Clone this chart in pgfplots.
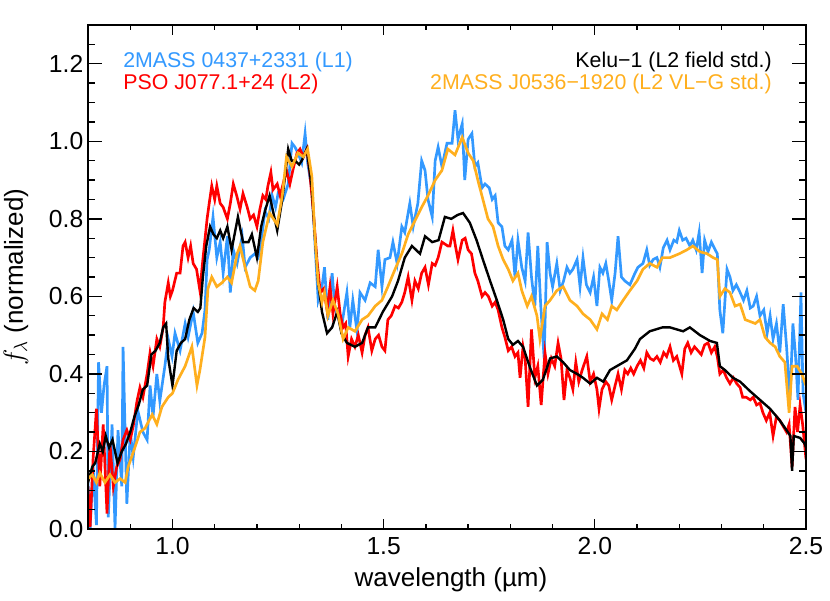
\documentclass[border=0pt]{standalone}
\usepackage{fontspec}
\setmainfont{Liberation Sans}
\usepackage{pgfplots}
\pgfplotsset{compat=1.18}
\definecolor{cblue}{RGB}{51,153,255}
\definecolor{corange}{RGB}{255,175,30}
\definecolor{cred}{RGB}{255,0,0}
\begin{document}
\begin{tikzpicture}
\pgfplotsset{
  base/.style={
    scale only axis, width=538.5pt, height=378pt,
    at={(0pt,0pt)}, anchor=south west,
    xmin=0.8, xmax=2.5, ymin=0, ymax=1.3,
    axis line style={line width=1.2pt},
    every tick/.style={line width=1.0pt, black},
    tick align=inside,
    /pgf/number format/assume math mode=true,
    /pgf/number format/.cd, fixed, fixed zerofill, precision=1,
  }
}
\begin{axis}[base,
  ytick=\empty,
  xtick={1,1.5,2,2.5},
  minor xtick={0.9,1.1,1.2,1.3,1.4,1.6,1.7,1.8,1.9,2.1,2.2,2.3,2.4},
  major tick length=7.5pt, minor tick length=3.75pt,
  xticklabel style={font=\fontsize{18.5}{20}\selectfont, yshift=-3pt},
  xlabel={wavelength (µm)},
  xlabel style={font=\fontsize{19.5}{22}\selectfont, at={(axis description cs:0.5,0)}, anchor=base, yshift=-42.75pt, xshift=3pt},
]
% 2MASS 0437+2331 (blue)
\addplot[color=cblue, line width=2pt] coordinates {
(0.800,0.12)(0.805,0.00)(0.812,0.16)(0.820,0.01)(0.825,0.43)(0.832,0.30)(0.838,0.37)(0.845,0.42)(0.848,0.03)(0.857,0.27)
(0.864,0.00)(0.871,0.255)(0.880,0.11)(0.883,0.47)(0.892,0.065)(0.900,0.25)(0.907,0.185)(0.918,0.305)(0.930,0.25)(0.940,0.23)
(0.947,0.37)(0.954,0.29)(0.963,0.40)(0.970,0.33)(0.982,0.42)(0.990,0.49)(0.999,0.445)(1.006,0.505)(1.018,0.46)(1.030,0.53)
(1.037,0.495)(1.049,0.56)(1.060,0.48)(1.070,0.505)(1.077,0.565)(1.082,0.695)(1.087,0.72)(1.096,0.805)(1.105,0.70)(1.113,0.74)
(1.120,0.66)(1.130,0.755)(1.137,0.61)(1.144,0.72)(1.153,0.685)(1.165,0.755)(1.172,0.675)(1.184,0.70)(1.195,0.71)(1.203,0.70)
(1.212,0.76)(1.219,0.82)(1.228,0.80)(1.236,0.86)(1.244,0.83)(1.250,0.865)(1.262,0.85)(1.274,0.89)(1.283,0.995)(1.290,0.985)
(1.297,0.97)(1.306,0.945)(1.314,1.02)(1.320,0.945)(1.330,0.875)(1.337,0.745)(1.345,0.59)(1.354,0.625)(1.360,0.675)(1.368,0.54)
(1.378,0.66)(1.385,0.565)(1.392,0.555)(1.400,0.52)(1.413,0.61)(1.420,0.52)(1.427,0.59)(1.437,0.51)(1.444,0.61)(1.456,0.59)
(1.468,0.635)(1.480,0.625)(1.487,0.72)(1.496,0.625)(1.503,0.695)(1.515,0.70)(1.522,0.74)(1.532,0.685)(1.543,0.78)(1.550,0.765)
(1.562,0.84)(1.570,0.78)(1.581,0.84)(1.590,0.95)(1.598,0.925)(1.605,0.85)(1.615,0.805)(1.622,0.95)(1.629,0.985)(1.638,0.935)
(1.650,0.995)(1.662,0.995)(1.669,1.08)(1.676,1.005)(1.686,1.045)(1.692,0.90)(1.700,1.005)(1.709,1.02)(1.716,0.935)(1.723,0.945)
(1.733,0.88)(1.740,0.89)(1.750,0.88)(1.757,0.85)(1.764,0.86)(1.771,0.79)(1.780,0.78)(1.787,0.73)(1.795,0.72)(1.804,0.745)
(1.811,0.65)(1.818,0.745)(1.827,0.675)(1.835,0.64)(1.842,0.765)(1.850,0.65)(1.858,0.575)(1.865,0.73)(1.872,0.575)(1.880,0.44)
(1.887,0.74)(1.894,0.66)(1.900,0.625)(1.910,0.685)(1.918,0.615)(1.926,0.64)(1.934,0.675)(1.941,0.66)(1.948,0.67)(1.958,0.695)
(1.965,0.625)(1.972,0.70)(1.980,0.63)(1.989,0.61)(1.997,0.65)(2.005,0.575)(2.012,0.675)(2.019,0.66)(2.026,0.685)(2.033,0.64)
(2.040,0.59)(2.048,0.66)(2.055,0.755)(2.063,0.65)(2.071,0.64)(2.083,0.63)(2.095,0.66)(2.102,0.675)(2.114,0.685)(2.123,0.72)
(2.130,0.68)(2.138,0.695)(2.147,0.70)(2.154,0.675)(2.162,0.725)(2.171,0.745)(2.178,0.72)(2.187,0.745)(2.194,0.74)(2.200,0.77)
(2.208,0.745)(2.216,0.75)(2.225,0.73)(2.232,0.745)(2.240,0.72)(2.247,0.765)(2.254,0.66)(2.260,0.745)(2.268,0.715)(2.276,0.74)
(2.285,0.72)(2.290,0.71)(2.296,0.565)(2.303,0.505)(2.313,0.67)(2.320,0.65)(2.327,0.615)(2.335,0.63)(2.344,0.61)(2.352,0.59)
(2.360,0.615)(2.368,0.57)(2.375,0.575)(2.383,0.60)(2.391,0.55)(2.400,0.565)(2.408,0.505)(2.415,0.55)(2.422,0.49)(2.430,0.53)
(2.438,0.455)(2.446,0.58)(2.454,0.47)(2.462,0.333)(2.469,0.53)(2.475,0.45)(2.481,0.333)(2.488,0.61)(2.493,0.35)(2.500,0.30)
};
% PSO J077.1+24 (red)
\addplot[color=cred, line width=2pt] coordinates {
(0.800,0.11)(0.805,0.005)(0.812,0.18)(0.820,0.31)(0.828,0.11)(0.836,0.27)(0.845,0.04)(0.852,0.22)(0.860,0.11)(0.868,0.16)
(0.876,0.18)(0.883,0.23)(0.892,0.255)(0.900,0.23)(0.907,0.265)(0.916,0.33)(0.923,0.365)(0.930,0.34)(0.940,0.40)(0.947,0.455)
(0.954,0.42)(0.963,0.49)(0.970,0.47)(0.978,0.52)(0.982,0.585)(0.990,0.635)(0.995,0.60)(1.000,0.615)(1.010,0.66)(1.018,0.66)
(1.025,0.73)(1.030,0.74)(1.037,0.70)(1.043,0.73)(1.049,0.685)(1.057,0.67)(1.065,0.615)(1.072,0.695)(1.082,0.80)(1.087,0.84)
(1.093,0.885)(1.100,0.85)(1.105,0.885)(1.113,0.84)(1.120,0.83)(1.130,0.80)(1.137,0.84)(1.144,0.89)(1.152,0.86)(1.160,0.825)
(1.167,0.865)(1.177,0.83)(1.184,0.80)(1.192,0.81)(1.200,0.78)(1.207,0.825)(1.214,0.86)(1.221,0.85)(1.226,0.885)(1.233,0.92)
(1.238,0.875)(1.248,0.89)(1.255,0.86)(1.262,0.89)(1.270,0.925)(1.278,0.89)(1.286,0.93)(1.295,0.97)(1.302,0.98)(1.310,0.96)
(1.318,0.98)(1.325,0.92)(1.333,0.825)(1.342,0.695)(1.350,0.61)(1.358,0.62)(1.366,0.565)(1.373,0.625)(1.380,0.555)(1.390,0.625)
(1.397,0.555)(1.404,0.52)(1.410,0.53)(1.416,0.445)(1.424,0.49)(1.432,0.47)(1.440,0.50)(1.449,0.455)(1.456,0.50)(1.463,0.52)
(1.472,0.46)(1.480,0.49)(1.488,0.50)(1.496,0.47)(1.503,0.46)(1.510,0.54)(1.518,0.55)(1.527,0.575)(1.535,0.57)(1.543,0.585)
(1.550,0.61)(1.558,0.65)(1.567,0.59)(1.574,0.64)(1.582,0.62)(1.590,0.66)(1.598,0.675)(1.606,0.63)(1.615,0.685)(1.622,0.68)
(1.629,0.70)(1.638,0.74)(1.645,0.735)(1.652,0.73)(1.657,0.73)(1.664,0.77)(1.670,0.73)(1.676,0.695)(1.686,0.745)(1.693,0.75)
(1.700,0.72)(1.708,0.71)(1.716,0.66)(1.723,0.64)(1.733,0.60)(1.740,0.61)(1.748,0.60)(1.757,0.575)(1.764,0.585)(1.771,0.565)
(1.780,0.52)(1.787,0.495)(1.795,0.46)(1.803,0.47)(1.811,0.445)(1.818,0.455)(1.823,0.39)(1.830,0.47)(1.835,0.44)(1.842,0.315)
(1.850,0.515)(1.858,0.39)(1.865,0.42)(1.873,0.32)(1.882,0.455)(1.889,0.40)(1.897,0.44)(1.905,0.42)(1.913,0.48)(1.920,0.44)
(1.927,0.333)(1.934,0.41)(1.941,0.39)(1.948,0.36)(1.955,0.43)(1.962,0.38)(1.970,0.41)(1.981,0.445)(1.989,0.38)(1.997,0.40)
(2.005,0.36)(2.010,0.31)(2.017,0.36)(2.026,0.38)(2.033,0.37)(2.040,0.333)(2.048,0.37)(2.055,0.40)(2.063,0.36)(2.071,0.41)
(2.078,0.40)(2.085,0.415)(2.092,0.40)(2.100,0.42)(2.108,0.435)(2.116,0.415)(2.123,0.455)(2.131,0.44)(2.139,0.435)(2.147,0.445)
(2.155,0.43)(2.163,0.455)(2.170,0.445)(2.178,0.47)(2.186,0.435)(2.194,0.445)(2.206,0.40)(2.213,0.465)(2.220,0.48)(2.228,0.455)
(2.236,0.47)(2.244,0.46)(2.252,0.45)(2.260,0.475)(2.268,0.48)(2.276,0.455)(2.284,0.47)(2.290,0.445)(2.296,0.40)(2.304,0.41)
(2.312,0.39)(2.320,0.375)(2.328,0.39)(2.336,0.375)(2.344,0.365)(2.350,0.34)(2.358,0.34)(2.368,0.333)(2.375,0.34)(2.383,0.32)
(2.391,0.325)(2.398,0.30)(2.406,0.28)(2.414,0.30)(2.422,0.24)(2.430,0.29)(2.438,0.28)(2.446,0.265)(2.454,0.25)(2.460,0.27)
(2.467,0.16)(2.474,0.315)(2.480,0.25)(2.486,0.32)(2.492,0.27)(2.500,0.18)
};
% Kelu-1 (black)
\addplot[color=black, line width=1.8pt] coordinates {
(0.800,0.12)(0.810,0.16)(0.817,0.17)(0.828,0.22)(0.835,0.20)(0.842,0.24)(0.850,0.21)(0.858,0.23)(0.864,0.20)(0.870,0.17)
(0.880,0.20)(0.890,0.22)(0.900,0.25)(0.910,0.29)(0.920,0.32)(0.930,0.36)(0.940,0.37)(0.950,0.45)(0.960,0.46)(0.970,0.48)
(0.978,0.52)(0.985,0.53)(0.990,0.44)(1.000,0.37)(1.010,0.46)(1.020,0.48)(1.030,0.49)(1.040,0.54)(1.050,0.57)(1.060,0.56)
(1.066,0.57)(1.072,0.65)(1.080,0.73)(1.089,0.78)(1.097,0.76)(1.105,0.75)(1.113,0.77)(1.120,0.75)(1.130,0.78)(1.140,0.72)
(1.155,0.805)(1.167,0.74)(1.180,0.74)(1.188,0.76)(1.200,0.70)(1.210,0.78)(1.219,0.82)(1.230,0.86)(1.248,0.77)(1.260,0.85)
(1.274,0.98)(1.282,0.95)(1.290,0.95)(1.300,0.94)(1.306,0.95)(1.318,0.98)(1.330,0.88)(1.337,0.76)(1.345,0.635)(1.354,0.56)
(1.366,0.505)(1.378,0.52)(1.390,0.56)(1.400,0.505)(1.413,0.48)(1.432,0.47)(1.449,0.48)(1.463,0.52)(1.480,0.52)(1.498,0.56)
(1.520,0.60)(1.534,0.64)(1.550,0.70)(1.567,0.73)(1.586,0.71)(1.598,0.755)(1.615,0.74)(1.630,0.745)(1.645,0.805)(1.660,0.80)
(1.675,0.81)(1.688,0.815)(1.704,0.79)(1.720,0.745)(1.735,0.695)(1.752,0.64)(1.768,0.59)(1.783,0.54)(1.795,0.49)(1.806,0.475)
(1.818,0.485)(1.830,0.47)(1.847,0.415)(1.863,0.37)(1.877,0.385)(1.894,0.44)(1.910,0.445)(1.925,0.43)(1.941,0.41)(1.958,0.40)
(1.972,0.39)(1.989,0.375)(2.005,0.39)(2.020,0.38)(2.036,0.41)(2.052,0.42)(2.076,0.435)(2.095,0.465)(2.107,0.49)(2.130,0.51)
(2.160,0.52)(2.178,0.52)(2.209,0.51)(2.225,0.52)(2.249,0.50)(2.273,0.485)(2.289,0.48)(2.296,0.42)(2.308,0.41)(2.327,0.39)
(2.344,0.38)(2.368,0.355)(2.391,0.333)(2.415,0.31)(2.438,0.28)(2.457,0.25)(2.463,0.24)(2.467,0.15)(2.471,0.24)(2.486,0.235)
(2.497,0.22)(2.500,0.21)
};
% 2MASS J0536-1920 (orange)
\addplot[color=corange, line width=2pt] coordinates {
(0.800,0.13)(0.810,0.14)(0.820,0.12)(0.828,0.145)(0.840,0.12)(0.852,0.14)(0.864,0.12)(0.876,0.13)(0.888,0.12)(0.895,0.16)
(0.911,0.21)(0.923,0.25)(0.935,0.26)(0.952,0.295)(0.963,0.27)(0.975,0.315)(0.990,0.34)(1.000,0.35)(1.013,0.385)(1.030,0.42)
(1.046,0.47)(1.058,0.37)(1.065,0.41)(1.077,0.495)(1.084,0.62)(1.093,0.65)(1.105,0.625)(1.117,0.635)(1.130,0.65)(1.140,0.635)
(1.153,0.71)(1.160,0.73)(1.172,0.675)(1.184,0.625)(1.195,0.615)(1.203,0.64)(1.214,0.74)(1.230,0.815)(1.248,0.785)(1.260,0.86)
(1.270,0.96)(1.283,0.935)(1.297,0.97)(1.310,0.96)(1.320,0.98)(1.330,0.91)(1.337,0.76)(1.345,0.635)(1.354,0.585)(1.360,0.61)
(1.368,0.55)(1.380,0.59)(1.392,0.555)(1.404,0.49)(1.416,0.52)(1.432,0.51)(1.449,0.54)(1.463,0.55)(1.480,0.575)(1.496,0.59)
(1.510,0.625)(1.527,0.67)(1.543,0.71)(1.558,0.76)(1.574,0.795)(1.590,0.83)(1.605,0.86)(1.622,0.90)(1.638,0.925)(1.652,0.98)
(1.669,0.965)(1.686,1.01)(1.700,0.97)(1.712,0.95)(1.723,0.90)(1.735,0.85)(1.747,0.80)(1.759,0.78)(1.771,0.73)(1.783,0.695)
(1.795,0.67)(1.806,0.64)(1.818,0.66)(1.827,0.615)(1.840,0.575)(1.850,0.60)(1.863,0.55)(1.870,0.49)(1.882,0.575)(1.894,0.59)
(1.910,0.615)(1.925,0.625)(1.941,0.59)(1.958,0.575)(1.972,0.555)(1.989,0.54)(2.005,0.515)(2.017,0.555)(2.030,0.54)(2.040,0.575)
(2.052,0.565)(2.067,0.59)(2.083,0.615)(2.100,0.64)(2.114,0.67)(2.130,0.685)(2.147,0.675)(2.160,0.70)(2.178,0.70)(2.200,0.71)
(2.218,0.72)(2.232,0.73)(2.249,0.715)(2.266,0.71)(2.280,0.70)(2.290,0.695)(2.296,0.60)(2.308,0.62)(2.320,0.61)(2.332,0.575)
(2.344,0.58)(2.356,0.54)(2.368,0.535)(2.380,0.53)(2.391,0.54)(2.403,0.495)(2.415,0.48)(2.427,0.47)(2.438,0.445)(2.450,0.43)
(2.460,0.30)(2.467,0.42)(2.479,0.42)(2.490,0.40)(2.500,0.37)
};
\node[anchor=base west, text=cblue, font=\fontsize{16}{18}\selectfont, inner sep=0pt] at (axis cs:0.883,1.190) {2MASS 0437+2331 (L1)};
\node[anchor=base west, text=cred, font=\fontsize{16}{18}\selectfont, inner sep=0pt] at (axis cs:0.883,1.1335) {PSO J077.1+24 (L2)};
\node[anchor=base east, text=black, font=\fontsize{16}{18}\selectfont, inner sep=0pt] at (axis cs:2.4195,1.190) {Kelu−1 (L2 field std.)};
\node[anchor=base east, text=corange, font=\fontsize{16}{18}\selectfont, inner sep=0pt] at (axis cs:2.4195,1.1335) {2MASS J0536−1920 (L2 VL−G std.)};
\end{axis}
\begin{axis}[base,
  xtick=\empty,
  ytick={0,0.2,0.4,0.6,0.8,1.0,1.2},
  minor ytick={0.05,0.1,0.15,0.25,0.3,0.35,0.45,0.5,0.55,0.65,0.7,0.75,0.85,0.9,0.95,1.05,1.1,1.15,1.25},
  major tick length=10.5pt, minor tick length=5.5pt,
  yticklabel style={font=\fontsize{18.5}{20}\selectfont},
  ylabel={$f_\lambda$ (normalized)},
  ylabel style={font=\fontsize{19.5}{22}\selectfont, at={(axis description cs:-0.1003,0.5)}, anchor=center},
]
\end{axis}
\pgfresetboundingbox
\useasboundingbox (-66pt,-53.25pt) rectangle (556.5pt,396.75pt);
\end{tikzpicture}
\end{document}
